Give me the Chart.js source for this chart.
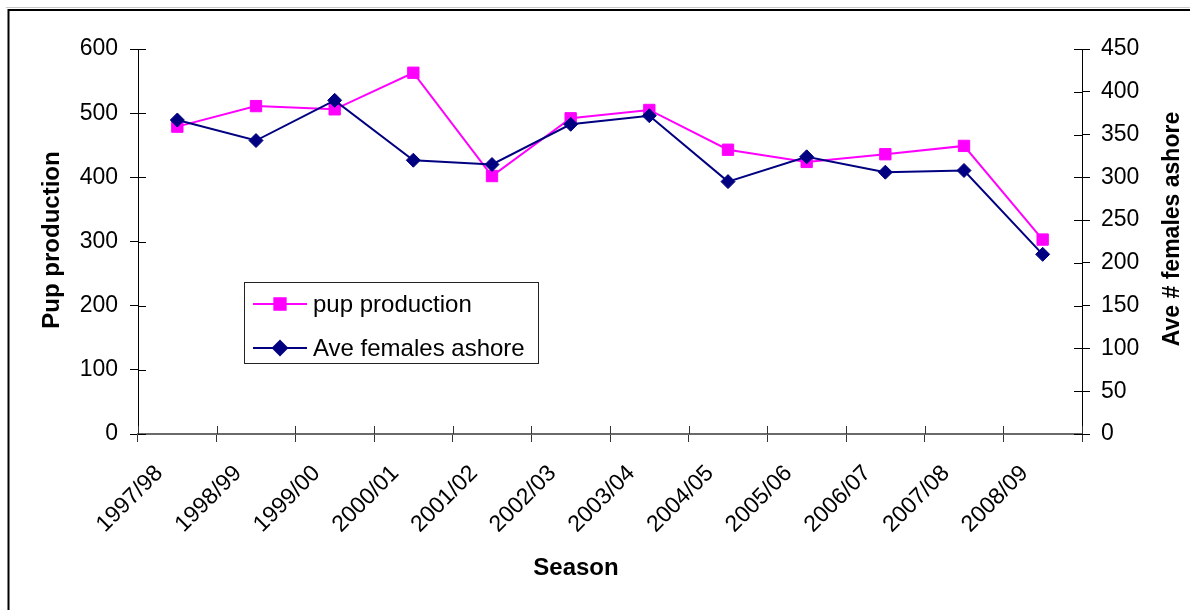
<!DOCTYPE html>
<html>
<head>
<meta charset="utf-8">
<script src="https://cdn.jsdelivr.net/npm/chart.js@4/dist/chart.umd.min.js"></script>
<style>
  html, body { margin: 0; padding: 0; background: #fff; }
  #wrap { width: 1190px; height: 610px; position: relative; }
</style>
</head>
<body>
<div id="wrap"><canvas id="c" width="1190" height="610"></canvas></div>
<script>
// Breeding seasons
const seasons = ['1997/98', '1998/99', '1999/00', '2000/01', '2001/02', '2002/03',
                 '2003/04', '2004/05', '2005/06', '2006/07', '2007/08', '2008/09'];
// Pup production (left axis)
const pupProduction = [479, 511, 506, 563, 402, 492, 505, 443, 424, 436, 449, 303];
// Average number of females ashore (right axis)
const femalesAshore = [367, 343, 390, 320, 315, 362, 372, 295, 324, 306, 308, 210];
// Axis ranges
const pupAxis = { min: 0, max: 600, step: 100 };
const femaleAxis = { min: 0, max: 450, step: 50 };

const FONT = '"Liberation Sans", Arial, sans-serif';
const TICK_FONT = { family: FONT, size: 23 };
const TICK_LEN = 8;

// Cross-style tick marks, axis titles, legend box and the outer frame
const decorations = {
  id: 'decorations',
  afterDraw(chart) {
    const ctx = chart.ctx;
    const area = chart.chartArea;
    const yl = chart.scales.y, yr = chart.scales.y1;
    ctx.save();

    // inner halves of the tick marks
    ctx.lineWidth = 1;
    ctx.strokeStyle = '#000';
    ctx.beginPath();
    yl.ticks.forEach((t, i) => {
      const py = Math.round(yl.getPixelForTick(i)) + 0.5;
      ctx.moveTo(area.left, py); ctx.lineTo(area.left + TICK_LEN, py);
    });
    yr.ticks.forEach((t, i) => {
      const py = Math.round(yr.getPixelForTick(i)) + 0.5;
      ctx.moveTo(area.right - TICK_LEN, py); ctx.lineTo(area.right, py);
    });
    ctx.stroke();
    ctx.strokeStyle = '#333';
    ctx.beginPath();
    const n = seasons.length;
    for (let i = 0; i <= n; i++) {
      const px = Math.round(area.left + (area.right - area.left) * i / n) + 0.5;
      ctx.moveTo(px, area.bottom); ctx.lineTo(px, area.bottom - TICK_LEN);
    }
    ctx.stroke();

    // axis titles
    ctx.fillStyle = '#000';
    ctx.textAlign = 'center';
    ctx.textBaseline = 'middle';
    ctx.font = 'bold 24px ' + FONT;
    ctx.fillText('Season', 576, 568);
    ctx.save();
    ctx.translate(52, 240);
    ctx.rotate(-Math.PI / 2);
    ctx.fillText('Pup production', 0, 0);
    ctx.restore();
    ctx.font = 'bold 23px ' + FONT;
    ctx.save();
    ctx.translate(1173, 229);
    ctx.rotate(-Math.PI / 2);
    ctx.fillText('Ave # females ashore', 0, 0);
    ctx.restore();

    // legend
    const box = { left: 244, top: 282, width: 294, height: 81 };
    ctx.fillStyle = '#fff';
    ctx.fillRect(box.left, box.top, box.width, box.height);
    ctx.strokeStyle = '#222';
    ctx.lineWidth = 1;
    ctx.strokeRect(box.left + 0.5, box.top + 0.5, box.width, box.height);
    const rows = [304, 348];
    ctx.font = '24px ' + FONT;
    ctx.textAlign = 'left';
    chart.data.datasets.forEach((ds, i) => {
      const ry = rows[i];
      ctx.strokeStyle = ds.borderColor;
      ctx.lineWidth = ds.borderWidth;
      ctx.beginPath();
      ctx.moveTo(253, ry); ctx.lineTo(307, ry);
      ctx.stroke();
      ctx.fillStyle = ds.pointBackgroundColor;
      ctx.strokeStyle = ds.pointBorderColor;
      Chart.helpers.drawPoint(ctx, {
        pointStyle: ds.pointStyle, radius: ds.pointRadius, rotation: 0, borderWidth: 1
      }, 280, ry);
      ctx.fillStyle = '#000';
      ctx.fillText(ds.label, 313, ry + 1);
    });

    // outer frame
    ctx.strokeStyle = '#c8c8c8';
    ctx.lineWidth = 1;
    ctx.beginPath();
    ctx.moveTo(6, 7.5); ctx.lineTo(1190, 7.5);
    ctx.stroke();
    ctx.strokeStyle = '#000';
    ctx.lineWidth = 2;
    ctx.beginPath();
    ctx.moveTo(8.5, 610); ctx.lineTo(8.5, 10); ctx.lineTo(1190, 10);
    ctx.stroke();
    ctx.restore();
  }
};

new Chart(document.getElementById('c'), {
  type: 'line',
  data: {
    labels: seasons,
    datasets: [
      {
        label: 'pup production',
        data: pupProduction,
        yAxisID: 'y',
        borderColor: '#ff00ff',
        backgroundColor: '#ff00ff',
        pointBackgroundColor: '#ff00ff',
        pointBorderColor: '#ff00ff',
        borderWidth: 2,
        pointStyle: 'rect',
        pointRadius: 8,
        pointBorderWidth: 1,
        tension: 0,
        order: 1
      },
      {
        label: 'Ave females ashore',
        data: femalesAshore,
        yAxisID: 'y1',
        borderColor: '#000080',
        backgroundColor: '#000080',
        pointBackgroundColor: '#000080',
        pointBorderColor: '#000080',
        borderWidth: 2,
        pointStyle: 'rectRot',
        pointRadius: 7,
        pointBorderWidth: 1,
        tension: 0,
        order: 0
      }
    ]
  },
  options: {
    responsive: false,
    animation: false,
    devicePixelRatio: 1,
    layout: { padding: { top: 49, left: 0, right: 0, bottom: 0 } },
    plugins: { legend: { display: false }, tooltip: { enabled: false }, title: { display: false } },
    scales: {
      x: {
        type: 'category',
        offset: true,
        grid: { display: true, drawOnChartArea: false, offset: true, tickLength: TICK_LEN, color: '#333', lineWidth: 1 },
        border: { display: true, color: '#6a6a6a', width: 2 },
        ticks: { font: TICK_FONT, color: '#000', maxRotation: 45, minRotation: 45, autoSkip: false, padding: 18, labelOffset: -18 },
        afterFit(s) { s.height = 176; }
      },
      y: {
        position: 'left',
        min: pupAxis.min, max: pupAxis.max,
        grid: { display: true, drawOnChartArea: false, tickLength: TICK_LEN, color: '#000', lineWidth: 1 },
        border: { display: true, color: '#000', width: 1 },
        ticks: { stepSize: pupAxis.step, font: TICK_FONT, color: '#000', padding: 12 },
        afterFit(s) { s.width = 138; }
      },
      y1: {
        position: 'right',
        min: femaleAxis.min, max: femaleAxis.max,
        grid: { display: true, drawOnChartArea: false, tickLength: TICK_LEN, color: '#000', lineWidth: 1 },
        border: { display: true, color: '#000', width: 1 },
        ticks: { stepSize: femaleAxis.step, font: TICK_FONT, color: '#000', padding: 11 },
        afterFit(s) { s.width = 108; }
      }
    }
  },
  plugins: [decorations]
});
</script>
</body>
</html>
